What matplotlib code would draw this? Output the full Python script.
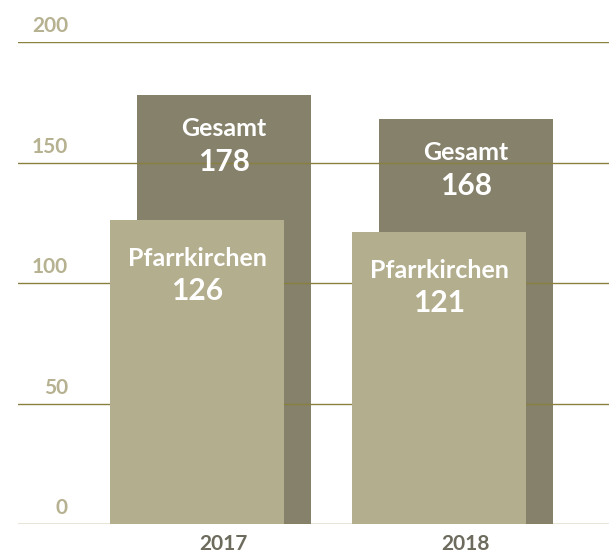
import matplotlib
matplotlib.use('Agg')
import matplotlib.pyplot as plt
import matplotlib.transforms as mtrans

plt.rcParams['font.family'] = ['Lato', 'DejaVu Sans']

years = ['2017', '2018']
gesamt = [178, 168]
pfarr = [126, 121]
yticks = [0, 50, 100, 150, 200]

DARK = '#85816a'; LIGHT = '#b3ae8d'; GRID = '#8a803f'
TICKC = '#b6b190'; YEARC = '#6c6b5d'
W = 0.719; D = 0.11

fig = plt.figure(figsize=(6.09, 5.54), dpi=100)
ax = fig.add_axes([18/609, 30/554, 591/609, 482/554])
ax.set_xlim(-0.7955, 1.6467)
ax.set_ylim(0, 200)
ax.axis('off')

xs = list(range(len(years)))
xd = [x + D/2 for x in xs]
xl = [x - D/2 for x in xs]

ax.bar(xd, gesamt, width=W, color=DARK, zorder=1)
for v in yticks:
    ax.axhline(v, color=GRID, lw=1.0, zorder=2)
ax.bar(xl, pfarr, width=W, color=LIGHT, zorder=3)

# y tick labels sit above the gridlines
tr = mtrans.blended_transform_factory(ax.transAxes, ax.transData)
for v in yticks:
    ax.annotate(str(v), (50/591, v), xycoords=tr, xytext=(0, 7), textcoords='offset points',
                ha='right', va='baseline', fontsize=15, fontweight='bold', color=TICKC)

for i in xs:
    ax.annotate('Gesamt', (xd[i], gesamt[i]), xytext=(0, -29.5), textcoords='offset points',
                ha='center', va='baseline', fontsize=18, fontweight='bold', color='white', zorder=4)
    ax.annotate(str(gesamt[i]), (xd[i], gesamt[i]), xytext=(0, -54.5), textcoords='offset points',
                ha='center', va='baseline', fontsize=21.5, fontweight='bold', color='white', zorder=4)
    ax.annotate('Pfarrkirchen', (xl[i], pfarr[i]), xytext=(0, -33), textcoords='offset points',
                ha='center', va='baseline', fontsize=18, fontweight='bold', color='white', zorder=4)
    ax.annotate(str(pfarr[i]), (xl[i], pfarr[i]), xytext=(0, -57), textcoords='offset points',
                ha='center', va='baseline', fontsize=21.5, fontweight='bold', color='white', zorder=4)
    ax.annotate(years[i], (xd[i], 0), xytext=(0, -18.5), textcoords='offset points',
                ha='center', va='baseline', fontsize=15, fontweight='bold', color=YEARC)

fig.savefig('out.png', dpi=100, facecolor='white')
